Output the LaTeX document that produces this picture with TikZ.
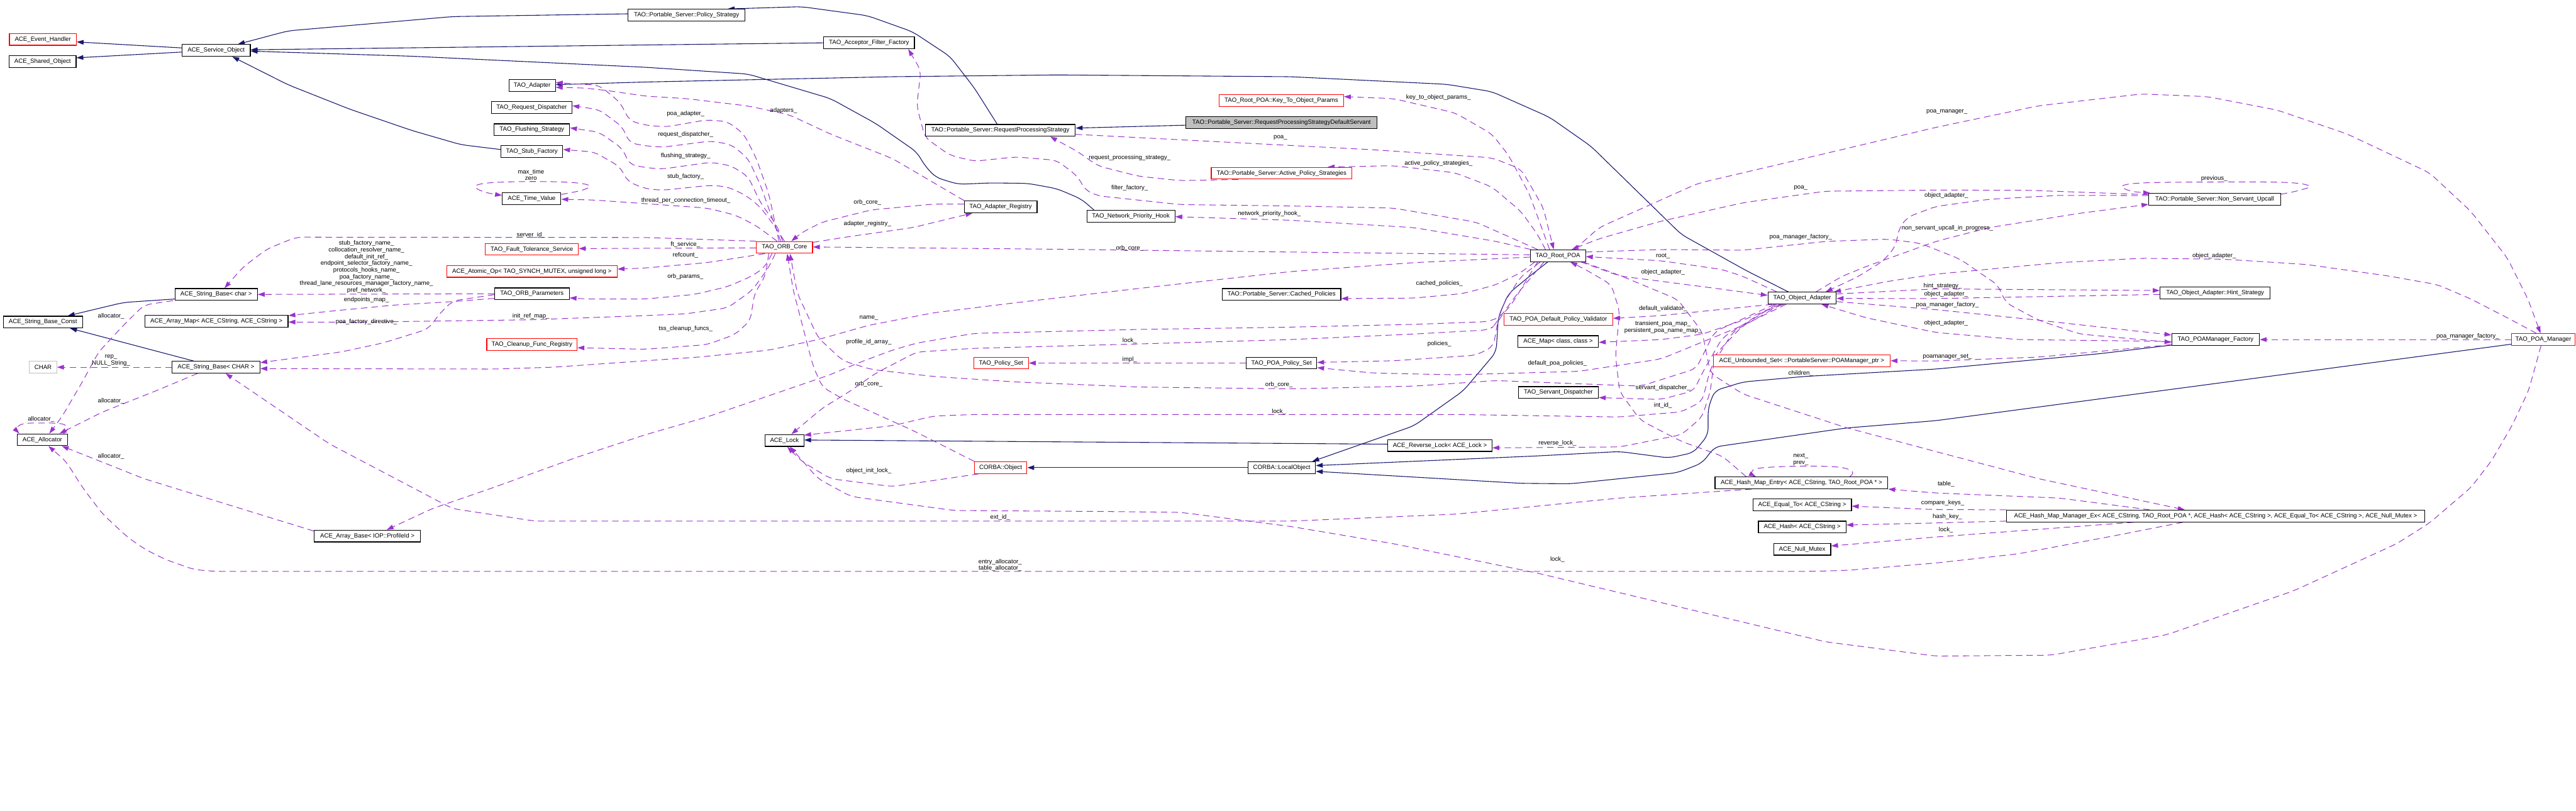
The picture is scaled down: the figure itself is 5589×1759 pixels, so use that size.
\documentclass[tikz,border=0pt]{standalone}
\usepackage{fontspec}
\setmainfont{Liberation Sans}
\usetikzlibrary{arrows.meta,calc}
\definecolor{navy}{HTML}{191970}
\definecolor{purp}{HTML}{9A32CD}
\definecolor{grayfill}{HTML}{BFBFBF}
\newcommand\dfont{\fontsize{13.2pt}{14.6pt}\selectfont}
\pgfdeclarelayer{edges}
\pgfsetlayers{edges,main}
\AtBeginDocument{\catcode`\_=12\relax}
\begin{document}
\begin{tikzpicture}[x=1pt,y=-1pt,
 cls/.style={draw=black,line width=1.6pt,fill=white,minimum height=25.5pt,inner sep=0pt,font=\dfont},
 redc/.style={cls,draw=red},
 inh/.style={draw=navy,line width=1.5pt,rounded corners=14pt,-{Triangle[length=15pt,width=10pt]}},
 dep/.style={draw=purp,line width=1.4pt,rounded corners=14pt,dash pattern=on 14pt off 9pt,-{Triangle[length=15pt,width=10pt]}},
 lbl/.style={font=\dfont,align=center,inner sep=0pt},
 sm/.style={smooth,tension=0.6}]
\useasboundingbox (0,0) rectangle (5589,1759);
% ---------- nodes ----------
\node[redc,minimum width=145pt] (evh) at (93,85.5) {ACE_Event_Handler};
\node[cls,minimum width=145pt] (sho) at (92.5,133.5) {ACE_Shared_Object};
\node[cls,minimum width=148pt] (svc) at (469,109.5) {ACE_Service_Object};
\node[cls,minimum width=253pt] (pst) at (1489.5,33) {TAO::Portable_Server::Policy_Strategy};
\node[cls,minimum width=197pt] (aff) at (1885.5,93) {TAO_Acceptor_Filter_Factory};
\node[cls,minimum width=101pt] (ada) at (1154.5,185.3) {TAO_Adapter};
\node[cls,minimum width=175pt] (rqd) at (1153.5,233.5) {TAO_Request_Dispatcher};
\node[cls,minimum width=164pt] (fls) at (1154,281.5) {TAO_Flushing_Strategy};
\node[cls,minimum width=134pt] (stf) at (1154,329) {TAO_Stub_Factory};
\node[cls,minimum width=127pt] (tv) at (1153.5,431) {ACE_Time_Value};
\node[redc,minimum width=202pt] (fts) at (1154,541) {TAO_Fault_Tolerance_Service};
\node[redc,minimum width=370pt] (ato) at (1154,589) {ACE_Atomic_Op< TAO_SYNCH_MUTEX, unsigned long >};
\node[cls,minimum width=325pt] (rps) at (2170.5,283) {TAO::Portable_Server::RequestProcessingStrategy};
\node[cls,fill=grayfill,minimum width=415pt] (dfs) at (2780.5,266) {TAO::Portable_Server::RequestProcessingStrategyDefaultServant};
\node[redc,minimum width=270pt] (kto) at (2780,218) {TAO_Root_POA::Key_To_Object_Params};
\node[redc,minimum width=305pt] (aps) at (2780.5,376) {TAO::Portable_Server::Active_Policy_Strategies};
\node[cls,minimum width=158pt] (arg) at (2171,449) {TAO_Adapter_Registry};
\node[cls,minimum width=191pt] (nph) at (2453.5,469.3) {TAO_Network_Priority_Hook};
\node[redc,minimum width=122pt] (orb) at (1702,537) {TAO_ORB_Core};
\node[cls,minimum width=120pt] (rpoa) at (3380,555) {TAO_Root_POA};
\node[cls,minimum width=286pt] (nsu) at (4805,432.5) {TAO::Portable_Server::Non_Servant_Upcall};
\node[cls,minimum width=179pt] (sbc) at (469,639) {ACE_String_Base< char >};
\node[cls,minimum width=172pt] (sbk) at (93,699) {ACE_String_Base_Const};
\node[cls,minimum width=311pt] (amap) at (469.5,697) {ACE_Array_Map< ACE_CString, ACE_CString >};
\node[cls,minimum width=162pt] (orbp) at (1154,637.6) {TAO_ORB_Parameters};
\node[redc,minimum width=196pt] (cfr) at (1154,747.7) {TAO_Cleanup_Func_Registry};
\node[cls,draw=grayfill,minimum width=59pt] (chr) at (93.5,797) {CHAR};
\node[cls,minimum width=191pt] (sbC) at (468.5,797) {ACE_String_Base< CHAR >};
\node[cls,minimum width=110pt] (alc) at (92,954.5) {ACE_Allocator};
\node[cls,minimum width=231pt] (abp) at (797,1163.5) {ACE_Array_Base< IOP::ProfileId >};
\node[cls,minimum width=257pt] (cpol) at (2780.5,639) {TAO::Portable_Server::Cached_Policies};
\node[redc,minimum width=119pt] (pset) at (2172,788) {TAO_Policy_Set};
\node[cls,minimum width=153pt] (pps) at (2780.5,788) {TAO_POA_Policy_Set};
\node[cls,minimum width=84pt] (alk) at (1702,956) {ACE_Lock};
\node[redc,minimum width=114pt] (cobj) at (2171,1015) {CORBA::Object};
\node[cls,minimum width=146pt] (lobj) at (2781,1015) {CORBA::LocalObject};
\node[cls,minimum width=148pt] (oad) at (3910,647) {TAO_Object_Adapter};
\node[redc,minimum width=236pt] (dpv) at (3381,693.5) {TAO_POA_Default_Policy_Validator};
\node[cls,minimum width=175pt] (amp) at (3380.5,741.5) {ACE_Map< class, class >};
\node[redc,minimum width=384pt] (uset) at (3909,783) {ACE_Unbounded_Set< ::PortableServer::POAManager_ptr >};
\node[cls,minimum width=174pt] (sdp) at (3381,852) {TAO_Servant_Dispatcher};
\node[cls,minimum width=226pt] (rvl) at (3124,967) {ACE_Reverse_Lock< ACE_Lock >};
\node[cls,minimum width=375pt] (hme) at (3908.5,1048) {ACE_Hash_Map_Entry< ACE_CString, TAO_Root_POA * >};
\node[cls,minimum width=214pt] (eqt) at (3910,1096) {ACE_Equal_To< ACE_CString >};
\node[cls,minimum width=190pt] (hsh) at (3910,1144) {ACE_Hash< ACE_CString >};
\node[cls,minimum width=124pt] (nmx) at (3910,1192) {ACE_Null_Mutex};
\node[cls,minimum width=239pt] (hst) at (4806,636) {TAO_Object_Adapter::Hint_Strategy};
\node[cls,minimum width=190pt] (pmf) at (4807,737) {TAO_POAManager_Factory};
\node[redc,minimum width=137pt] (pman) at (5518,737) {TAO_POA_Manager};
\node[cls,minimum width=907pt] (hmm) at (4807,1120) {ACE_Hash_Map_Manager_Ex< ACE_CString, TAO_Root_POA *, ACE_Hash< ACE_CString >, ACE_Equal_To< ACE_CString >, ACE_Null_Mutex >};
% ---------- edges ----------
\begin{pgfonlayer}{edges}
% inheritance
\draw[inh] ([yshift=5.5pt]svc.west) -- ([yshift=-5.5pt]evh.east);
\draw[inh] ([yshift=-3.5pt]svc.west) -- ([yshift=8pt]sho.east);
\draw[inh] ([yshift=3pt]pst.west) -- (982,36) -- (625,67) -- ([xshift=47pt]svc.north);
\draw[inh] (aff.west) -- (1400,97.6) -- ([yshift=1.5pt]svc.east);
\draw[inh] ([xshift=-80pt]nph.north) -- (2346,432) -- (2293,409.5) -- (2230,398) -- (2150,397) -- (2079,400) -- (2030,385) -- (2007,360) -- (1989,330) -- (1900,268) -- (1802,214) -- (1623,160.7) -- (1400,146) -- (893,122) -- ([yshift=-1.5pt]svc.east);
\draw[inh] ([yshift=4.5pt]stf.west) -- (1000,314) -- (893,283) -- (759,237) -- (625,184) -- ([xshift=35pt]svc.south);
\draw[inh] ([xshift=-30pt]oad.north) -- (3790,588) -- (3648,509) -- (3452,317.6) -- (3362,254.5) -- (3237,199) -- (3139,183) -- (2800,166.5) -- (2293,162.6) -- (1936,166.5) -- (1400,178) -- ([yshift=1.5pt]ada.east);
\draw[inh] ([xshift=-7pt]rps.north) -- (2114,191) -- (2061,122.5) -- (1980,69) -- (1882,34) -- (1739,14.5) -- ([xshift=89pt]pst.north);
\draw[inh] ([yshift=-5.7pt]dfs.west) -- ([yshift=5pt]rps.east);
\draw[inh] ([yshift=-10pt]sbc.west) -- (268,656.5) -- ([xshift=54pt]sbk.north);
\draw[inh] ([xshift=-48.5pt]sbC.north) -- ([xshift=59pt]sbk.south);
\draw[inh] (lobj.west) -- (cobj.east);
\draw[inh] ([yshift=3pt]rvl.west) -- ([yshift=1pt]alk.east);
\draw[inh] ([xshift=-22pt]rpoa.south) -- (3318,600) -- (3273,637) -- (3251,687) -- (3246,764) -- (3175,848) -- (3068,924) -- ([xshift=66pt]lobj.north);
\draw[inh] ([yshift=-12pt]pmf.west) -- (4557,767.5) -- (4200,801) -- (3916,817) -- (3782,829) -- (3720,848) -- (3706,886) -- (3706,943.6) -- (3675,982) -- (3621,994) -- (3514,980) -- (3336,989.5) -- ([yshift=4.5pt]lobj.east);
\draw[inh] ([yshift=-10pt]pman.west) -- (4200,913) -- (4005,929) -- (3720,970) -- (3693,1005) -- (3639,1026) -- (3407,1050) -- (3300,1049) -- ([yshift=-8pt]lobj.east);
% usage (dashed)
\draw[dep] ([xshift=-12pt]orb.north) -- (1668,421) -- (1641,344) -- (1614,291) -- (1579,264) -- (1534,260) -- (1445,275.5) -- (1400,271.7) -- (1366,262) -- (1345,222) -- (1300,185) -- ([yshift=6pt]ada.east);
\draw[dep] ([xshift=-8pt]orb.north) -- (1677,478) -- (1650,402) -- (1623,344) -- (1587,314) -- (1543,306) -- (1436,319.6) -- (1400,316.5) -- (1366,310) -- (1350,275) -- (1300,238) -- ([yshift=4pt]rqd.east);
\draw[dep] ([xshift=-4pt]orb.north) -- (1686,490) -- (1650,440) -- (1623,383) -- (1587,360) -- (1543,352) -- (1436,367) -- (1400,363.6) -- (1366,357) -- (1350,322) -- (1300,287) -- ([yshift=4pt]fls.east);
\draw[dep] (orb.north) -- (1680,490) -- (1650,450) -- (1620,425) -- (1580,406) -- (1543,402) -- (1436,413) -- (1400,409.5) -- (1362,394) -- (1345,362) -- (1290,330) -- ([yshift=4.5pt]stf.east);
\draw[dep] ([xshift=-16pt]orb.north) -- (1641,490) -- (1596,467) -- (1534,451.6) -- (1400,442) -- (1286,434) -- ([yshift=-1.5pt]tv.east);
\draw[dep,sharp corners] plot[sm] coordinates {([yshift=9pt]tv.east) (1262,413) (1279,403) (1240,396) (1152,394) (1060,397) (1031,405) (1052,417) ([yshift=7pt]tv.west)};
\draw[dep] ([yshift=-1pt]orb.west) -- ([yshift=1.5pt]fts.east);
\draw[dep] ([xshift=-43pt]orb.south) -- (1534,570) -- (1400,581.7) -- ([yshift=5pt]ato.east);
\draw[dep] (orb.north west) -- (1400,515.5) -- (643,514.7) -- (580,540) -- (527,580) -- ([xshift=18pt]sbc.north);
\draw[dep] ([xshift=-27pt]orb.south) -- (1659,580) -- (1632,599) -- (1579,622) -- (1507,639) -- (1400,649) -- (1277,649) -- ([yshift=-9pt]orbp.east);
\draw[dep] ([xshift=-20pt]orb.south) -- (1668,580) -- (1632,630) -- (1579,668) -- (1489,681) -- (1400,685) -- (1152,694) -- (795,699) -- ([yshift=-2pt]amap.east);
\draw[dep] ([xshift=-34pt]orb.south) -- (1660,600) -- (1637,637) -- (1628,695) -- (1596,725.4) -- (1534,748) -- (1400,758) -- ([yshift=-7pt]cfr.east);
\draw[dep] ([xshift=-57pt]cobj.north) -- (1980,934) -- (1900,898) -- (1829,866) -- (1784,840) -- (1764,794) -- (1750,741) -- (1736,687) -- (1721,630) -- ([xshift=6pt]orb.south);
\draw[dep] ([xshift=-60pt]oad.south) -- (3720,720) -- (3680,800) -- (3560,838) -- (3400,832) -- (3246,826) -- (3068,838) -- (2800,844) -- (2471,840) -- (2204,829) -- (2025,817) -- (1891,802) -- (1829,783) -- (1775,733) -- (1730,637) -- ([xshift=12pt]orb.south);
\draw[dep] ([yshift=6pt]arg.west) -- (2025,443) -- (1891,455.5) -- (1784,482) -- (1739,505) -- ([xshift=15pt]orb.north);
\draw[dep] ([yshift=11pt]orb.east) -- (1846,513) -- (1980,494) -- ([xshift=-61pt]arg.south);
\draw[dep] ([xshift=-79pt]arg.north) -- (1936,344) -- (1802,291) -- (1712,249) -- (1623,230) -- (1489,214) -- (1400,208.6) -- (1321,197) -- (1268,191) -- ([yshift=-4.2pt]ada.east);
\draw[dep] ([yshift=2pt]rpoa.west) -- (2800,547) -- (2300,541) -- ([yshift=1pt]orb.east);
\draw[dep] ([yshift=-3pt]rpoa.west) -- (3068,570) -- (2800,589.5) -- (2471,626) -- (2204,657) -- (2025,679) -- (1885,706) -- (1775,737) -- (1668,760) -- (1516,775) -- (1400,783) -- (1200,797) -- (1071,801) -- ([yshift=-3pt]sbC.east);
\draw[dep] ([xshift=2pt]rpoa.north west) -- (3246,524) -- (3068,494) -- (2800,478) -- ([yshift=-1pt]nph.east);
\draw[dep] ([xshift=-44pt]rpoa.north) -- (3202,482) -- (3023,451.6) -- (2800,447) -- (2561,444) -- (2382,425) -- (2355,413) -- (2338,382.7) -- (2293,348) -- (2204,340.6) -- (2114,350) -- (2061,337) -- (2007,298.5) -- (1989,230) -- (1998,153) -- ([xshift=85pt]aff.south);
\draw[dep] ([xshift=-94pt]aps.south) -- (2561,392) -- (2471,382.7) -- (2382,360) -- (2338,329) -- ([xshift=108pt]rps.south);
\draw[dep] ([yshift=-8.6pt]rps.east) -- (2800,315.7) -- (2979,325) -- (3237,342.5) -- (3300,367) -- (3348,450) -- ([xshift=-9pt]rpoa.north);
\draw[dep] ([xshift=-18pt]rpoa.north) -- (3318,421) -- (3273,337) -- (3237,291) -- (3157,245) -- (3023,214) -- ([yshift=8.3pt]kto.east);
\draw[dep] ([xshift=-27pt]rpoa.north) -- (3336,509) -- (3300,459) -- (3237,405.7) -- (3157,375) -- (3023,359.7) -- ([xshift=100pt]aps.north);
\draw[dep] ([xshift=36pt]rpoa.north) -- (3470,493.7) -- (3684,398) -- (3961,333) -- (4200,276.5) -- (4423,229.6) -- (4646,204) -- (4789,209.7) -- (4941,239) -- (5093,291) -- (5271,375) -- (5361,459) -- (5440,560) -- (5485,650) -- ([xshift=-6pt]pman.north);
\draw[dep] ([yshift=10pt]nsu.west) -- (4400,413) -- (4200,412.6) -- (3961,415) -- (3782,440) -- (3604,480) -- (3470,518) -- ([xshift=30pt]rpoa.north);
\draw[dep,sharp corners] plot[sm] coordinates {([yshift=11pt]nsu.east) (4985,414) (5011,404) (4960,396) (4804,395) (4650,397) (4604,404) (4625,415) ([xshift=4pt]nsu.north west)};
\draw[dep] ([yshift=8pt]nsu.west) -- (4468,424) -- (4316,432.5) -- (4200,448) -- (4139,471) -- (4121,494) -- (4112,536) -- (4086,566) -- (4032,600) -- ([xshift=51pt]oad.north);
\draw[dep] ([xshift=30pt]oad.north) -- (3996,600) -- (4050,578) -- (4200,524) -- (4316,494) -- (4512,463) -- ([yshift=-11pt]nsu.west);
\draw[dep] ([yshift=9pt]oad.east) -- (4200,627) -- ([yshift=5.5pt]hst.west);
\draw[dep] ([yshift=-3pt]hst.west) -- (4200,648) -- ([yshift=-0.7pt]oad.east);
\draw[dep] ([yshift=-7.6pt]oad.east) -- (4200,672) -- (4423,695) -- ([yshift=10pt]pmf.west);
\draw[dep] ([yshift=-4pt]pmf.west) -- (4379,737) -- (4200,721.6) -- (4050,690) -- ([xshift=42pt]oad.south);
\draw[dep] ([yshift=8pt]rpoa.east) -- (3604,541.6) -- (3782,543) -- (3961,524) -- (4095,519) -- (4166,528) -- (4253,562.6) -- (4307,600) -- (4334,618) -- (4352,657) -- (4423,695) -- (4512,725) -- ([yshift=-6pt]pmf.west);
\draw[dep] (pman.west) -- (pmf.east);
\draw[dep] ([yshift=-11pt]pmf.west) -- (4423,775) -- (4200,783.5) -- (uset.east);
\draw[dep] ([xshift=-15pt]pman.north) -- (5450,695) -- (5361,649) -- (5289,618) -- (5182,599) -- (5004,574) -- (4825,562.6) -- (4646,560.6) -- (4468,570) -- (4200,595) -- (4100,610) -- ([xshift=69pt]oad.north);
\draw[dep] ([xshift=-5pt]pman.south) -- (5486,848) -- (5450,924) -- (5405,1001) -- (5361,1058) -- (5271,1135) -- (5200,1180) -- (4977,1282) -- (4700,1378) -- (4450,1422) -- (4200,1424) -- (3961,1393) -- (3336,1244) -- (3023,1180) -- (2800,1142.6) -- (2561,1112) -- (2382,1110) -- (2070,1108) -- (1846,1077.5) -- (1775,1039) -- ([xshift=12pt]alk.south);
\draw[dep] ([xshift=-48pt]cobj.south) -- (1936,1056) -- (1802,1039) -- (1739,1001) -- ([xshift=6pt]alk.south);
\draw[dep] (pps.west) -- (pset.east);
\draw[dep] ([xshift=-50pt]rpoa.south) -- (3300,591.5) -- (3246,618) -- (3175,637) -- (3068,647) -- ([yshift=-9pt]cpol.east);
\draw[dep] ([xshift=-44pt]rpoa.south) -- (3282,657) -- (3250,695) -- (3240,752) -- (3202,771) -- (3023,783) -- ([yshift=1.4pt]pps.east);
\draw[dep] ([xshift=-56pt]oad.south) -- (3782,706) -- (3604,779) -- (3425,806) -- (3157,813.5) -- (2979,809.6) -- ([yshift=-10pt]pps.east);
\draw[dep] ([xshift=-38pt]rpoa.south) -- (3300,600) -- (3264,656) -- (3246,705) -- (3229,716) -- (3068,725) -- (2800,737) -- (2471,746.5) -- (2114,756) -- (1989,764) -- (1900,810) -- (1846,848) -- (1784,886) -- ([xshift=15pt]alk.north);
\draw[dep] ([xshift=-30pt]rpoa.south) -- (3290,640) -- (3255,688) -- (3229,698) -- (3068,704) -- (2800,710) -- (2471,715) -- (2114,723.5) -- (1989,744.6) -- (1936,760) -- (1864,787) -- (1802,813) -- (1668,859) -- (1534,905) -- (1400,943.6) -- (1250,993) -- (1071,1058) -- (937.5,1104) -- ([xshift=42pt]abp.north);
\draw[dep] ([xshift=50pt]rpoa.south) -- (3514,599) -- (3693,622) -- ([yshift=6pt]oad.west);
\draw[dep] ([xshift=-55pt]oad.north) -- (3782,600) -- (3737,585) -- (3604,566) -- ([yshift=-2pt]rpoa.east);
\draw[dep] ([xshift=-65pt]oad.south) -- (3693,675.7) -- (3604,685) -- ([yshift=2.5pt]dpv.east);
\draw[dep] ([xshift=-48pt]oad.south) -- (3782,695) -- (3693,725.4) -- (3604,737) -- ([yshift=-1.5pt]amp.east);
\draw[dep] ([xshift=-40pt]oad.south) -- (3827,676) -- (3737,733) -- (3693,810) -- (3675,848) -- (3604,867) -- ([yshift=-11pt]sdp.east);
\draw[dep] ([xshift=-35pt]oad.south) -- (3782,706) -- (3720,771) -- (3711,848) -- (3693,905) -- (3648,943.6) -- (3514,970) -- ([yshift=-5pt]rvl.east);
\draw[dep] ([xshift=-45pt]oad.south) -- (3760,720) -- (3711,800) -- (3693,871) -- (3648,894) -- (3514,905) -- (3157,899.6) -- (2114,899.6) -- (2025,903) -- (1936,924) -- ([yshift=-2pt]alk.north east);
\draw[dep] ([xshift=55pt]rpoa.south) -- (3520,600) -- (3640,650) -- (3693,720) -- (3711,810) -- (3782,855.5) -- (4005,928) -- (4200,980) -- (4423,1039) -- ([xshift=-67pt]hmm.north);
\draw[dep] ([xshift=-120pt]hme.north) -- (3737,990) -- (3648,958) -- (3559,912) -- (3514,850) -- (3505,771) -- (3514,676) -- (3496,618) -- (3440,585) -- ([xshift=27pt]rpoa.south);
\draw[dep,sharp corners] plot[sm] coordinates {([xshift=105pt]hme.north) (4019,1024) (3990,1014) (3907,1011.7) (3818,1016) (3800,1026) ([xshift=-99pt]hme.north)};
\draw[dep] ([xshift=-108pt]hme.south) -- (3514,1081) -- (3157,1116) -- (2800,1131) -- (1161,1131) -- (982,1104) -- (714,963) -- ([xshift=21pt]sbC.south);
\draw[dep] ([xshift=-143pt]hmm.north) -- (4468,1081) -- (4200,1070) -- (hme.south east);
\draw[dep] (hmm.north west) -- (4200,1106) -- ([yshift=-2.6pt]eqt.east);
\draw[dep] ([yshift=-11pt]hmm.west) -- (4200,1135) -- ([yshift=4.5pt]hsh.east);
\draw[dep] ([xshift=-178pt]hmm.south) -- (4200,1165.5) -- ([yshift=7pt]nmx.east);
\draw[dep] ([xshift=-71pt]hmm.south) -- (4602,1160) -- (4379,1202) -- (4200,1222) -- (4005,1238) -- (3934,1240) -- (464,1240) -- (420,1236) -- (357,1213.5) -- (312,1190.6) -- (277,1166) -- (223,1116) -- (179,1058) -- (143,1001) -- ([xshift=13pt]alc.south);
\draw[dep] ([yshift=11pt]abp.west) -- (536,1108) -- (312.5,1039) -- ([xshift=42pt]alc.south);
\draw[dep] ([xshift=-94pt]sbc.south) -- (312.5,662) -- (268,706) -- (214,764) -- (178.6,829) -- (134,905) -- ([xshift=15pt]alc.north);
\draw[dep] ([xshift=-40pt]sbC.south) -- (339,848) -- (223,894) -- ([xshift=37pt]alc.north);
\draw[dep,sharp corners] plot[sm] coordinates {([xshift=46pt]alc.north) (147,930) (134,920) (89,918) (50,920) (36,930) ([xshift=-50pt]alc.north)};
\draw[dep] (sbC.west) -- (chr.east);
\draw[dep] (orbp.west) -- (sbc.east);
\draw[dep] ([yshift=-10pt]orbp.west) -- (982,654.6) -- (857,662) -- (714,675.7) -- ([yshift=12pt]amap.east);
\draw[dep] ([yshift=-2pt]orbp.west) -- (982,653) -- (955,679.5) -- (929,714) -- (830,744.6) -- (741,763.7) -- ([yshift=10pt]sbC.east);
\end{pgfonlayer}
% ---------- labels ----------
\node[lbl] at (241,686) {allocator_};
\node[lbl] at (241,870) {allocator_};
\node[lbl] at (89,910) {allocator_};
\node[lbl] at (241,991) {allocator_};
\node[lbl] at (241,782) {rep_\\NULL_String_};
\node[lbl] at (795,579.3) {stub_factory_name_\\collocation_resolver_name_\\default_init_ref_\\endpoint_selector_factory_name_\\protocols_hooks_name_\\poa_factory_name_\\thread_lane_resources_manager_factory_name_\\pref_network_};
\node[lbl] at (795,651) {endpoints_map_};
\node[lbl] at (795,698) {poa_factory_directive_};
\node[lbl] at (1152,687) {init_ref_map_};
\node[lbl] at (1152,510) {server_id_};
\node[lbl] at (1152,379.5) {max_time\\zero};
\node[lbl] at (1487.5,247) {poa_adapter_};
\node[lbl] at (1487.5,292) {request_dispatcher_};
\node[lbl] at (1487.5,338) {flushing_strategy_};
\node[lbl] at (1487.5,383) {stub_factory_};
\node[lbl] at (1488,435) {thread_per_connection_timeout_};
\node[lbl] at (1487,531) {ft_service_};
\node[lbl] at (1487,554) {refcount_};
\node[lbl] at (1487,600) {orb_params_};
\node[lbl] at (1487.5,714) {tss_cleanup_funcs_};
\node[lbl] at (1700,240) {adapters_};
\node[lbl] at (1882,439) {orb_core_};
\node[lbl] at (1882,486) {adapter_registry_};
\node[lbl] at (1885,690) {name_};
\node[lbl] at (1885,742) {profile_id_array_};
\node[lbl] at (1885,834) {orb_core_};
\node[lbl] at (1885,1022) {object_init_lock_};
\node[lbl] at (2170,1226.5) {entry_allocator_\\table_allocator_};
\node[lbl] at (2170,1123) {ext_id_};
\node[lbl] at (2451,342) {request_processing_strategy_};
\node[lbl] at (2451,408) {filter_factory_};
\node[lbl] at (2451,539) {orb_core_};
\node[lbl] at (2451,740) {lock_};
\node[lbl] at (2451,780) {impl_};
\node[lbl] at (2778,299) {poa_};
\node[lbl] at (2754,464) {network_priority_hook_};
\node[lbl] at (2775,834.5) {orb_core_};
\node[lbl] at (2775,894) {lock_};
\node[lbl] at (3121,212) {key_to_object_params_};
\node[lbl] at (3121,355) {active_policy_strategies_};
\node[lbl] at (3123,615) {cached_policies_};
\node[lbl] at (3123,747) {policies_};
\node[lbl] at (3379,788) {default_poa_policies_};
\node[lbl] at (3379,961.5) {reverse_lock_};
\node[lbl] at (3379,1215) {lock_};
\node[lbl] at (3608,556) {root_};
\node[lbl] at (3608,591) {object_adapter_};
\node[lbl] at (3608,670) {default_validator_};
\node[lbl] at (3608,710.5) {transient_poa_map_\\persistent_poa_name_map_};
\node[lbl] at (3608,842) {servant_dispatcher_};
\node[lbl] at (3608,880) {int_id_};
\node[lbl] at (3907,408) {poa_};
\node[lbl] at (3907,514) {poa_manager_factory_};
\node[lbl] at (3907,810) {children_};
\node[lbl] at (3907,997) {next_\\prev_};
\node[lbl] at (4224,243) {poa_manager_};
\node[lbl] at (4223,425) {object_adapter_};
\node[lbl] at (4225,495) {non_servant_upcall_in_progress_};
\node[lbl] at (4215,621) {hint_strategy_};
\node[lbl] at (4222,639) {object_adapter_};
\node[lbl] at (4225,662) {poa_manager_factory_};
\node[lbl] at (4222,702) {object_adapter_};
\node[lbl] at (4225,774) {poamanager_set_};
\node[lbl] at (4222,1051) {table_};
\node[lbl] at (4215,1091) {compare_keys_};
\node[lbl] at (4225,1121) {hash_key_};
\node[lbl] at (4222,1150) {lock_};
\node[lbl] at (4804,388) {previous_};
\node[lbl] at (4804,555) {object_adapter_};
\node[lbl] at (5354,730) {poa_manager_factory_};
\end{tikzpicture}
\end{document}
